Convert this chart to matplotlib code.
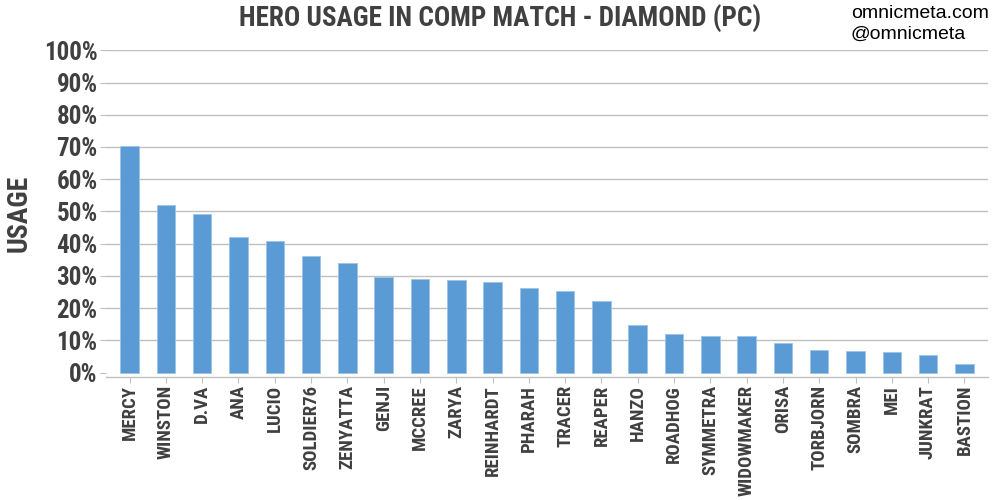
import matplotlib
matplotlib.use("Agg")
import matplotlib.pyplot as plt
from matplotlib import font_manager as fm
from matplotlib.ticker import FuncFormatter

heroes = ["MERCY", "WINSTON", "D.VA", "ANA", "LUCIO", "SOLDIER76", "ZENYATTA",
          "GENJI", "MCCREE", "ZARYA", "REINHARDT", "PHARAH", "TRACER", "REAPER",
          "HANZO", "ROADHOG", "SYMMETRA", "WIDOWMAKER", "ORISA", "TORBJORN",
          "SOMBRA", "MEI", "JUNKRAT", "BASTION"]
usage = [70.4, 51.9, 49.2, 42.1, 40.8, 36.2, 33.9, 29.8, 29.0, 28.6, 28.0,
         26.3, 25.3, 22.2, 14.8, 11.9, 11.4, 11.4, 9.1, 6.9, 6.7, 6.4, 5.5, 2.8]
yticks = list(range(0, 101, 10))

BAR_COLOR = "#5B9BD5"
TEXT_COLOR = "#404040"
GRID_COLOR = "#C0C0C0"

# pick a narrow font if one is installed
names = {f.name for f in fm.fontManager.ttflist}
narrow = None
for cand in ["Roboto Condensed", "Liberation Sans Narrow", "DejaVu Sans Condensed",
             "Open Sans Condensed"]:
    if cand in names:
        narrow = cand
        break
if narrow is None:
    narrow = "DejaVu Sans"
    stretch = "condensed"
else:
    stretch = "normal"
cond = dict(family=narrow, stretch=stretch, color=TEXT_COLOR, fontweight="bold")

fig = plt.figure(figsize=(10, 5), dpi=100)
ax = fig.add_axes([0.106, 0.2454, 0.882, 0.654])

x = list(range(len(heroes)))
ax.bar(x, usage, width=0.51, color=BAR_COLOR, edgecolor="#9DC3E6", linewidth=0.6, zorder=3)

ax.set_xlim(-0.65, len(heroes) - 1 + 0.65)
ax.set_ylim(-1.45, 100)
ax.set_yticks(yticks)
ax.yaxis.set_major_formatter(FuncFormatter(lambda v, p: f"{v:.0f}%"))
ax.set_xticks(x)
ax.set_xticklabels(heroes, rotation=90, fontsize=13.5, **cond)
for lbl in ax.get_yticklabels():
    lbl.set(fontsize=18, family=narrow, stretch=stretch, color=TEXT_COLOR, fontweight="bold")

ax.grid(axis="y", color=GRID_COLOR, linewidth=1, zorder=0)
ax.get_ygridlines()[0].set_visible(False)
for side in ["top", "right", "left"]:
    ax.spines[side].set_visible(False)
ax.spines["bottom"].set_color(GRID_COLOR)
ax.spines["bottom"].set_linewidth(1)
ax.tick_params(axis="y", length=4, color=GRID_COLOR, pad=2)
ax.tick_params(axis="x", length=4, color=GRID_COLOR, pad=1.5)

ax.set_ylabel("USAGE", fontsize=20, labelpad=8, **cond)
fig.text(0.5, 0.962, "HERO USAGE IN COMP MATCH - DIAMOND (PC)", ha="center", va="center",
         fontsize=19.5, **cond)
fig.text(0.851, 0.972, "omnicmeta.com", ha="left", va="center", fontsize=14,
         family="Liberation Sans", color="black")
fig.text(0.851, 0.931, "@omnicmeta", ha="left", va="center", fontsize=14,
         family="Liberation Sans", color="black")

fig.savefig("out.png", dpi=100, facecolor="white")
